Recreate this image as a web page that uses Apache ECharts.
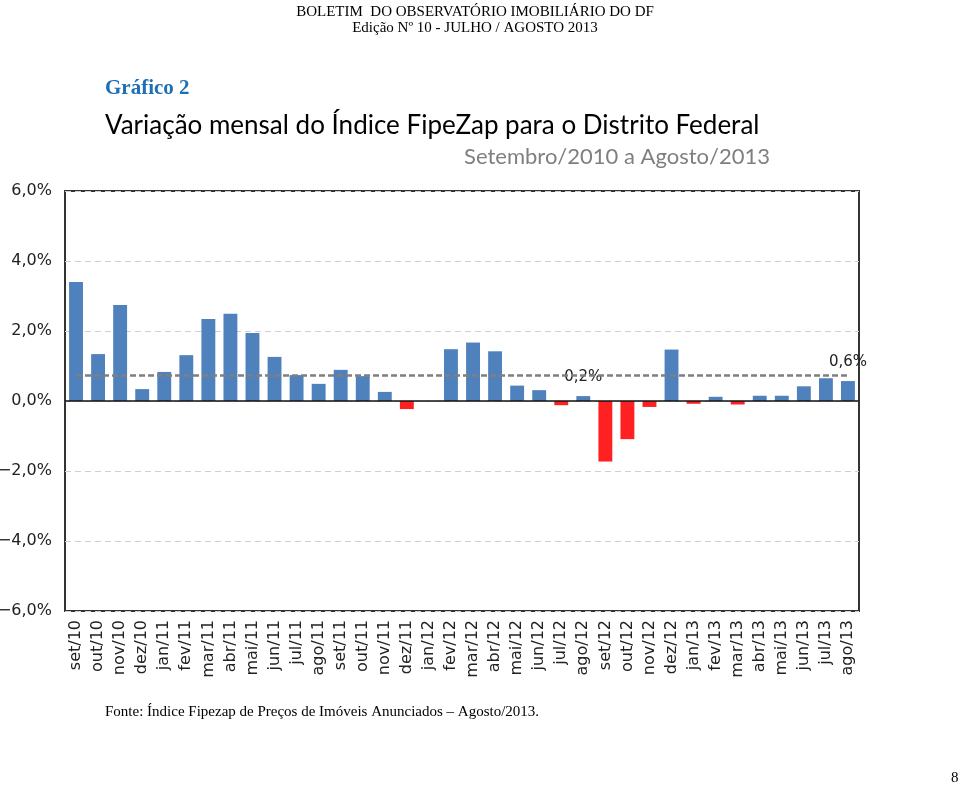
<!DOCTYPE html>
<html><head><meta charset="utf-8">
<script src="https://cdn.jsdelivr.net/npm/echarts@6/dist/echarts.min.js"></script>
<style>html,body{margin:0;padding:0;background:#fff}#c{width:960px;height:786px}</style>
</head><body><div id="c"></div>
<script>
const categories = ['set/10','out/10','nov/10','dez/10','jan/11','fev/11','mar/11','abr/11','mai/11','jun/11','jul/11','ago/11','set/11','out/11','nov/11','dez/11','jan/12','fev/12','mar/12','abr/12','mai/12','jun/12','jul/12','ago/12','set/12','out/12','nov/12','dez/12','jan/13','fev/13','mar/13','abr/13','mai/13','jun/13','jul/13','ago/13'];
const values = [3.40,1.34,2.74,0.34,0.83,1.31,2.34,2.49,1.94,1.26,0.74,0.49,0.89,0.71,0.26,-0.23,0,1.48,1.67,1.42,0.44,0.31,-0.12,0.14,-1.73,-1.09,-0.17,1.47,-0.08,0.12,-0.10,0.15,0.15,0.42,0.65,0.57];
const averageLine = 0.75;
const valueLabels = {'ago/12':'0,2%','ago/13':'0,6%'};
const yTicks = {min:-6, max:6, interval:2};

const chart = echarts.init(document.getElementById('c'));
const fmt = v => (v < 0 ? '\u2212' : '') + Math.abs(v).toFixed(1).replace('.', ',') + '%';
const barData = values.map((v, i) => {
  const item = {value: v, itemStyle: {color: v < 0 ? '#FF2121' : '#4F81BD'}};
  if (valueLabels[categories[i]]) {
    item.label = {show: true, position: 'top', distance: 11, formatter: valueLabels[categories[i]],
      fontFamily: 'DejaVu Sans', fontSize: 15, color: '#222'};
  }
  return item;
});
const serif = '"Liberation Serif", "Times New Roman", serif';
const T = (text, pos, style) => Object.assign({text, padding: 0, textStyle: Object.assign({fontWeight: 'normal', color: '#000'}, style)}, pos);
chart.setOption({
  animation: false,
  title: [
    T('BOLETIM  DO OBSERVATÓRIO IMOBILIÁRIO DO DF', {left: 475, top: 5, textAlign: 'center'}, {fontFamily: serif, fontSize: 15}),
    T('Edição Nº 10 - JULHO / AGOSTO 2013', {left: 475, top: 21, textAlign: 'center'}, {fontFamily: serif, fontSize: 15}),
    T('Gráfico 2', {left: 105, top: 78}, {fontFamily: serif, fontSize: 21, fontWeight: 'bold', color: '#1F6FB5'}),
    T('Variação mensal do Índice FipeZap para o Distrito Federal', {left: 105, top: 113}, {fontFamily: 'Lato', fontSize: 26}),
    T('Setembro/2010 a Agosto/2013', {right: 190, top: 146}, {fontFamily: 'Lato', fontSize: 22, color: '#7F7F7F'}),
    T('Fonte: Índice Fipezap de Preços de Imóveis Anunciados – Agosto/2013.', {left: 105, top: 705}, {fontFamily: serif, fontSize: 15}),
    T('8', {left: 951, top: 771}, {fontFamily: serif, fontSize: 15})
  ],
  grid: {left: 65, right: 101, top: 191, bottom: 175, outerBoundsMode: 'none', containLabel: false,
    show: true, borderColor: '#333', borderWidth: 2, backgroundColor: 'transparent'},
  xAxis: {
    type: 'category', data: categories,
    axisLine: {show: false}, axisTick: {show: false},
    axisLabel: {rotate: 90, interval: 0, margin: 9, fontFamily: 'DejaVu Sans', fontSize: 16, color: '#222'}
  },
  yAxis: {
    type: 'value', min: yTicks.min, max: yTicks.max, interval: yTicks.interval,
    axisLine: {show: false}, axisTick: {show: false},
    axisLabel: {formatter: fmt, margin: 13, fontFamily: 'DejaVu Sans', fontSize: 16, color: '#222'},
    splitLine: {show: true, lineStyle: {color: '#D0D0D0', type: [6, 4], width: 1}}
  },
  series: [{
    type: 'bar', data: barData, barWidth: '63%',
    markLine: {
      silent: true, symbol: 'none', label: {show: false},
      data: [
        [{coord: [0, averageLine]}, {coord: [categories.length - 1, averageLine]}],
        [{coord: [0, 0], x: 65, lineStyle: {color: '#111', type: 'solid', width: 1.5}}, {coord: [categories.length - 1, 0], x: 859}]
      ],
      lineStyle: {color: '#7F7F7F', type: [6, 3], width: 2.5}
    }
  }]
});
</script></body></html>
